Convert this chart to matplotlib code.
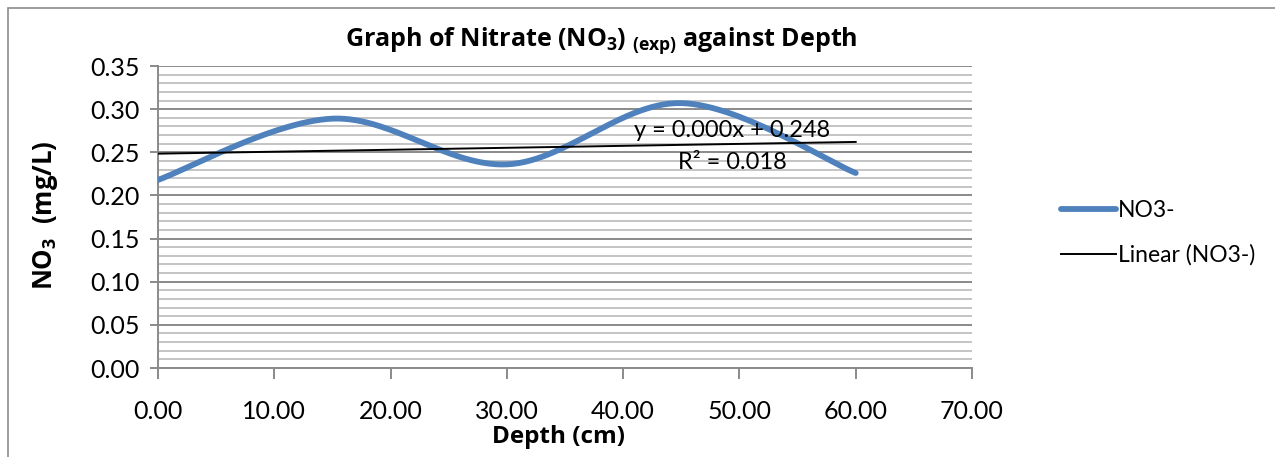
import numpy as np
import matplotlib
matplotlib.use('Agg')
import matplotlib.pyplot as plt
from matplotlib.lines import Line2D
from matplotlib.patches import Rectangle

# Data
depth = [0.0, 15.0, 30.0, 45.0, 60.0]
nitrate = [0.218, 0.289, 0.236, 0.307, 0.226]
x_ticks = [0, 10, 20, 30, 40, 50, 60, 70]
y_ticks = [0.00, 0.05, 0.10, 0.15, 0.20, 0.25, 0.30, 0.35]

plt.rcParams['font.family'] = ['Lato', 'DejaVu Sans']
plt.rcParams['mathtext.fontset'] = 'custom'
plt.rcParams['mathtext.rm'] = 'Open Sans'
plt.rcParams['mathtext.bf'] = 'Open Sans:bold'


def excel_smooth(xs, ys, n=60):
    '''Catmull-Rom style Bezier smoothing like Excel's smoothed line'''
    xs = np.asarray(xs, float)
    ys = np.asarray(ys, float)
    P = np.column_stack([xs, ys])
    out = []
    for i in range(len(P) - 1):
        p0 = P[i - 1] if i > 0 else P[i]
        p1 = P[i]
        p2 = P[i + 1]
        p3 = P[i + 2] if i + 2 < len(P) else P[i + 1]
        c1 = p1 + (p2 - p0) / 6.0
        c2 = p2 - (p3 - p1) / 6.0
        t = np.linspace(0, 1, n)[:, None]
        seg = ((1 - t) ** 3) * p1 + 3 * ((1 - t) ** 2) * t * c1 + 3 * (1 - t) * t ** 2 * c2 + t ** 3 * p2
        out.append(seg if i == 0 else seg[1:])
    out = np.vstack(out)
    return out[:, 0], out[:, 1]


fig = plt.figure(figsize=(12.75, 4.57), dpi=100)
ax = fig.add_axes([158 / 1275, 1 - 368 / 457, (972 - 158) / 1275, (368 - 66) / 457])

# outer chart border
fig.patches.append(Rectangle((8 / 1275, -0.1), 1.2, 1 - 8 / 457 + 0.1, transform=fig.transFigure,
                             fill=False, edgecolor='#8c8c8c', linewidth=1.2))

# gridlines
ax.set_yticks(np.arange(0, 0.351, 0.01), minor=True)
ax.grid(which='major', axis='y', color='#8a8a8a', linewidth=1.4)
ax.grid(which='minor', axis='y', color='#c4c4c4', linewidth=1.4)
ax.set_axisbelow(True)

sx, sy = excel_smooth(depth, nitrate)
ax.plot(sx, sy, color='#4f81bd', linewidth=4.2, solid_capstyle='round', zorder=3)

# linear trend line
slope, intercept = np.polyfit(depth, nitrate, 1)
fit = np.polyval([slope, intercept], depth)
r2 = 1 - np.sum((np.array(nitrate) - fit) ** 2) / np.sum((np.array(nitrate) - np.mean(nitrate)) ** 2)
ax.plot([depth[0], depth[-1]], np.polyval([slope, intercept], [depth[0], depth[-1]]),
        color='black', linewidth=1.4, zorder=4)
ax.text(49.4, 0.2758, f'y = {slope:.3f}x + {intercept:.3f}', ha='center', va='center',
        fontsize=17, zorder=5)
ax.text(49.4, 0.2387, f'R² = {r2:.3f}', ha='center', va='center', fontsize=17, zorder=5)

ax.set_xlim(0, 70)
ax.set_ylim(0, 0.35)
ax.set_xticks(x_ticks)
ax.set_xticklabels([f'{v:.2f}' for v in x_ticks])
ax.set_yticks(y_ticks)
ax.set_yticklabels([f'{v:.2f}' for v in y_ticks])
ax.tick_params(axis='both', which='major', labelsize=18, color='#8a8a8a', width=1.4)
ax.tick_params(axis='x', length=8, pad=15)
ax.tick_params(axis='y', length=6, pad=7)
ax.tick_params(which='minor', length=0)
for s in ['top', 'right']:
    ax.spines[s].set_visible(False)
for s in ['left', 'bottom']:
    ax.spines[s].set_color('#8a8a8a')
    ax.spines[s].set_linewidth(1.4)

fig.text(601 / 1275, 1 - 40 / 457,
         r'Graph of Nitrate (NO$_\mathbf{3}$) $_\mathbf{(exp)}$ against Depth',
         ha='center', va='center', fontsize=18, fontweight='bold', family='Open Sans')
fig.text(559 / 1275, 1 - 437 / 457, 'Depth (cm)', ha='center', va='center',
         fontsize=17.5, fontweight='bold', family='Open Sans')
fig.text(46 / 1275, 1 - 215 / 457, r'NO$_\mathbf{3}$  (mg/L)', ha='center', va='center',
         rotation=90, fontsize=18.5, fontweight='bold', family='Open Sans')

handles = [Line2D([], [], color='#4f81bd', linewidth=4.2, solid_capstyle='round'),
           Line2D([], [], color='black', linewidth=1.4)]
fig.legend(handles, ['NO3-', 'Linear (NO3-)'], loc='center left',
           bbox_to_anchor=(1040 / 1275, 1 - 233 / 457), frameon=False, fontsize=16.5,
           handlelength=2.4, handletextpad=0.1, labelspacing=1.0)

fig.savefig('out.png', dpi=100)
